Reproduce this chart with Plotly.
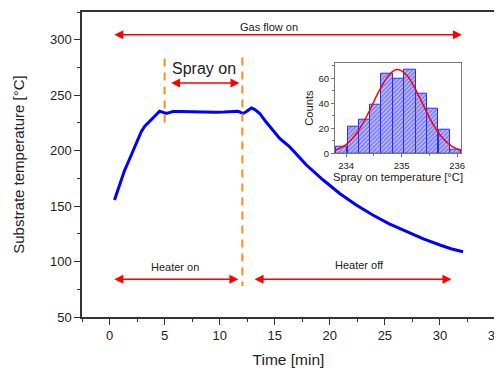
import plotly.graph_objects as go

# Main curve
time_min = [0.45, 0.91, 1.36, 1.8, 2.12, 2.5, 2.88, 3.2, 3.64, 4.1, 4.55, 4.8, 5.15, 5.5, 5.76,
            6.5, 7.2, 8.0, 8.8, 9.6, 10.4, 11.0, 11.67, 11.9, 12.1, 12.4, 12.88, 13.2, 13.64,
            14.2, 14.85, 15.45, 16.36, 17.88, 19.4, 20.9, 22.4, 23.9, 25.4, 26.97, 28.5,
            30.0, 31.0, 32.1]
temp_c = [155.5, 170, 182, 192, 199, 208, 217, 222, 226, 231, 235.6, 234.5, 233.5, 234.5, 235.3,
          235.2, 235.0, 234.8, 235.1, 234.7, 234.9, 235.1, 235.6, 234.5, 233.5, 235.0, 238.5,
          237.0, 233.5, 226, 218.5, 211, 203.4, 187, 173.5, 161.4, 151, 141.9, 134, 126.9,
          120.5, 114.9, 111.5, 108.8]

# Inset histogram
bin_centers = [233.92, 234.13, 234.33, 234.54, 234.74, 234.95, 235.15, 235.36, 235.56, 235.77, 235.97]
bin_counts = [5, 21, 27, 39, 64, 60, 67, 48, 36, 19, 3]
bin_width = 0.205

# Gaussian fit curve
fit_x = [233.8, 234.0, 234.2, 234.4, 234.6, 234.8, 234.93, 235.1, 235.3, 235.5, 235.7, 235.9, 236.07]
fit_y = [2.4, 7.0, 16.6, 32.1, 50.4, 64.1, 67.0, 62.1, 46.8, 28.6, 14.2, 5.7, 2.2]

FONT = "Arial, Liberation Sans, sans-serif"
RED = "#ff0000"
ORANGE = "#ff8c1a"

fig = go.Figure()

fig.add_trace(go.Scatter(x=time_min, y=temp_c, mode="lines",
                         line=dict(color="#0000ff", width=3), showlegend=False))

# orange dashed markers
fig.add_trace(go.Scatter(x=[5, 5], y=[283, 220], mode="lines",
                         line=dict(color=ORANGE, width=2, dash="8px,6px"), showlegend=False))
fig.add_trace(go.Scatter(x=[12.06, 12.06], y=[284, 78], mode="lines",
                         line=dict(color=ORANGE, width=2, dash="8px,6px"), showlegend=False))

# inset
fig.add_trace(go.Bar(x=bin_centers, y=bin_counts, width=bin_width,
                     marker=dict(color="rgba(170,170,255,0.9)",
                                 line=dict(color="#2a2aff", width=1),
                                 pattern=dict(shape="/", fgcolor="#3030ff", bgcolor="#c0c0ff",
                                              size=3, solidity=0.5)),
                     xaxis="x2", yaxis="y2", showlegend=False))
fig.add_trace(go.Scatter(x=fit_x, y=fit_y, mode="lines", line=dict(color=RED, width=1.5, shape="spline"),
                         xaxis="x2", yaxis="y2", showlegend=False))

def darrow(x0, x1, y):
    fig.add_annotation(x=x1, y=y, ax=x0, ay=y, xref="x", yref="y", axref="x", ayref="y",
                       text="", showarrow=True, arrowhead=2, arrowsize=1.2, arrowwidth=1.5,
                       arrowcolor=RED, arrowside="end+start")

darrow(0.3, 32.0, 304.5)
darrow(5.45, 11.8, 261)
darrow(0.3, 11.7, 84)
darrow(13.03, 31.05, 84)

def label(x, y, t, size):
    fig.add_annotation(x=x, y=y, xref="x", yref="y", text=t, showarrow=False,
                       font=dict(family=FONT, size=size, color="#222"))

label(14.5, 311.5, "Gas flow on", 11)
label(8.6, 274, "Spray on", 16)
label(5.9, 94.8, "Heater on", 11)
label(22.7, 97, "Heater off", 11)

axis_common = dict(showline=True, linecolor="#333", linewidth=1.5, mirror=True,
                   ticks="outside", ticklen=6, tickcolor="#333", tickwidth=1.2,
                   showgrid=False, zeroline=False, automargin=False,
                   ticklabeloverflow="allow",
                   tickfont=dict(family=FONT, size=13, color="#222"))

# page body has an 8px margin, so the figure is sized/offset to compensate
fig.update_layout(
    width=494, height=360,
    margin=dict(l=74, r=7, t=4, b=51),
    paper_bgcolor="white", plot_bgcolor="white",
    font=dict(family=FONT),
    xaxis=dict(range=[-2.5, 35], tickvals=[0, 5, 10, 15, 20, 25, 30, 35],
               minor=dict(dtick=2.5, tick0=0, ticks="outside", ticklen=3, tickcolor="#333"),
               title=dict(text="Time [min]", font=dict(family=FONT, size=15.5, color="#222"), standoff=12),
               **axis_common),
    yaxis=dict(range=[50, 325], tickvals=[50, 100, 150, 200, 250, 300],
               minor=dict(dtick=25, tick0=0, ticks="outside", ticklen=3, tickcolor="#333"),
               title=dict(text="Substrate temperature [°C]", font=dict(family=FONT, size=15, color="#222"), standoff=22),
               **axis_common),
    xaxis2=dict(domain=[0.6126, 0.9177], anchor="y2", range=[233.8, 236.07], automargin=False,
                tickvals=[234, 235, 236], showline=True, linecolor="#777", linewidth=1, mirror=True,
                ticks="outside", ticklen=3, tickcolor="#777", showgrid=False, zeroline=False,
                minor=dict(dtick=0.5, ticks="outside", ticklen=2, tickcolor="#777"),
                tickfont=dict(family=FONT, size=9.5, color="#222"),
                title=dict(text="Spray on temperature [°C]", font=dict(family=FONT, size=11.2, color="#222"), standoff=2)),
    yaxis2=dict(domain=[0.5367, 0.8338], anchor="x2", range=[0, 72.5], automargin=False,
                tickvals=[0, 20, 40, 60], showline=True, linecolor="#777", linewidth=1, mirror=True,
                ticks="outside", ticklen=3, tickcolor="#777", showgrid=False, zeroline=False,
                minor=dict(dtick=10, ticks="outside", ticklen=2, tickcolor="#777"),
                tickfont=dict(family=FONT, size=9.5, color="#222"),
                title=dict(text="Counts", font=dict(family=FONT, size=11.2, color="#222"), standoff=2)),
    bargap=0,
)

fig.write_html("out.html")
